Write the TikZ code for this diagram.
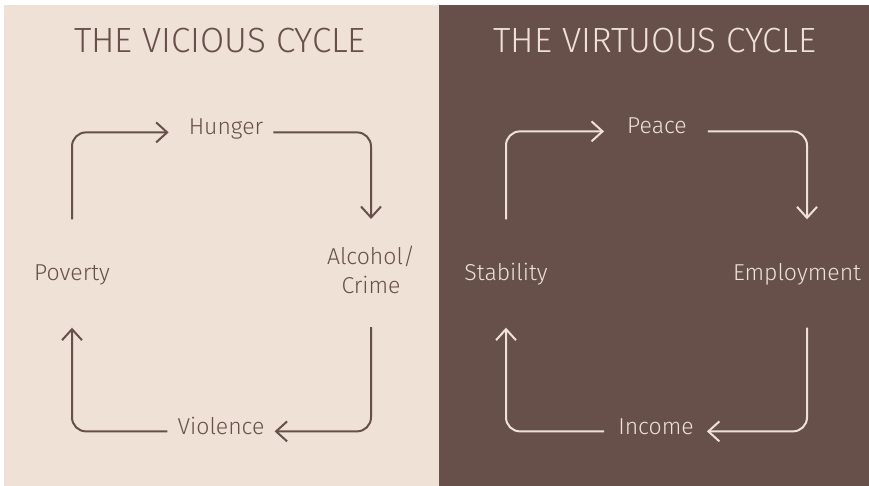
\documentclass[tikz,border=0pt]{standalone}
\usepackage{fontspec}
\IfFontExistsTF{Fira Sans Light}{\setmainfont{Fira Sans Light}}{\setmainfont{Fira Sans}}
\usetikzlibrary{arrows.meta,positioning}
\definecolor{sand}{RGB}{239,225,213}
\definecolor{cocoa}{RGB}{102,80,73}

\begin{document}
\begin{tikzpicture}[x=1pt,y=-1pt]
		\tikzset{
				wordbox/.style={inner sep=0pt, font=\fontsize{23}{29}\selectfont},
				word/.style={wordbox, text height=0pt, text depth=0pt, anchor=base},
				heading/.style={inner sep=0pt, anchor=base, font=\fontsize{35}{38}\selectfont},
				flow/.style={line width=2pt, rounded corners=14pt, -{Straight Barb[length=11pt,width=20pt]}}
			}
		\useasboundingbox (0,0) rectangle (869,486);
		\fill[white] (0,0) rectangle (869,486);
		\fill[sand] (4,5) rectangle (439,486);
		\fill[cocoa] (439,5) rectangle (869,486);
		
		\begin{scope}[text=cocoa, draw=cocoa]
			\node[heading] (vicious) at (220,53) {THE VICIOUS CYCLE};
			\node[word] (hunger) at (226,135) {Hunger};
			\node[wordbox, align=center, anchor=north] (alcohol) at (371,246) {Alcohol/\\Crime};
			\node[word] (violence) at (221,434) {Violence};
			\node[word] (poverty) at (72,280) {Poverty};
			
			\draw[flow] ([yshift=60pt]poverty.north) |- ([xshift=-20pt]hunger.mid west);
			\draw[flow] ([xshift=10pt]hunger.mid east) -| ([yshift=27pt]alcohol.north);
			\draw[flow] ([yshift=-33pt]alcohol.south) |- ([xshift=10pt]violence.mid east);
			\draw[flow] ([xshift=-10pt]violence.mid west) -| ([yshift=-47pt]poverty.south);
		\end{scope}
		
		\begin{scope}[text=sand, draw=sand]
			\node[heading] (virtuous) at (655,53) {THE VIRTUOUS CYCLE};
			\node[word] (peace) at (657,134) {Peace};
			\node[word] (employment) at (797,280) {Employment};
			\node[word] (income) at (656,434) {Income};
			\node[word] (stability) at (506,280) {Stability};
			
			\draw[flow] ([yshift=60pt]stability.north) |- ([xshift=-23pt]peace.mid west);
			\draw[flow] ([xshift=21pt]peace.mid east) -| ([xshift=10pt,yshift=60pt]employment.north);
			\draw[flow] ([xshift=10pt,yshift=-47pt]employment.south) |- ([xshift=13pt]income.mid east);
			\draw[flow] ([xshift=-14pt]income.mid west) -| ([yshift=-47pt]stability.south);
		\end{scope}
	\end{tikzpicture}
\end{document}
